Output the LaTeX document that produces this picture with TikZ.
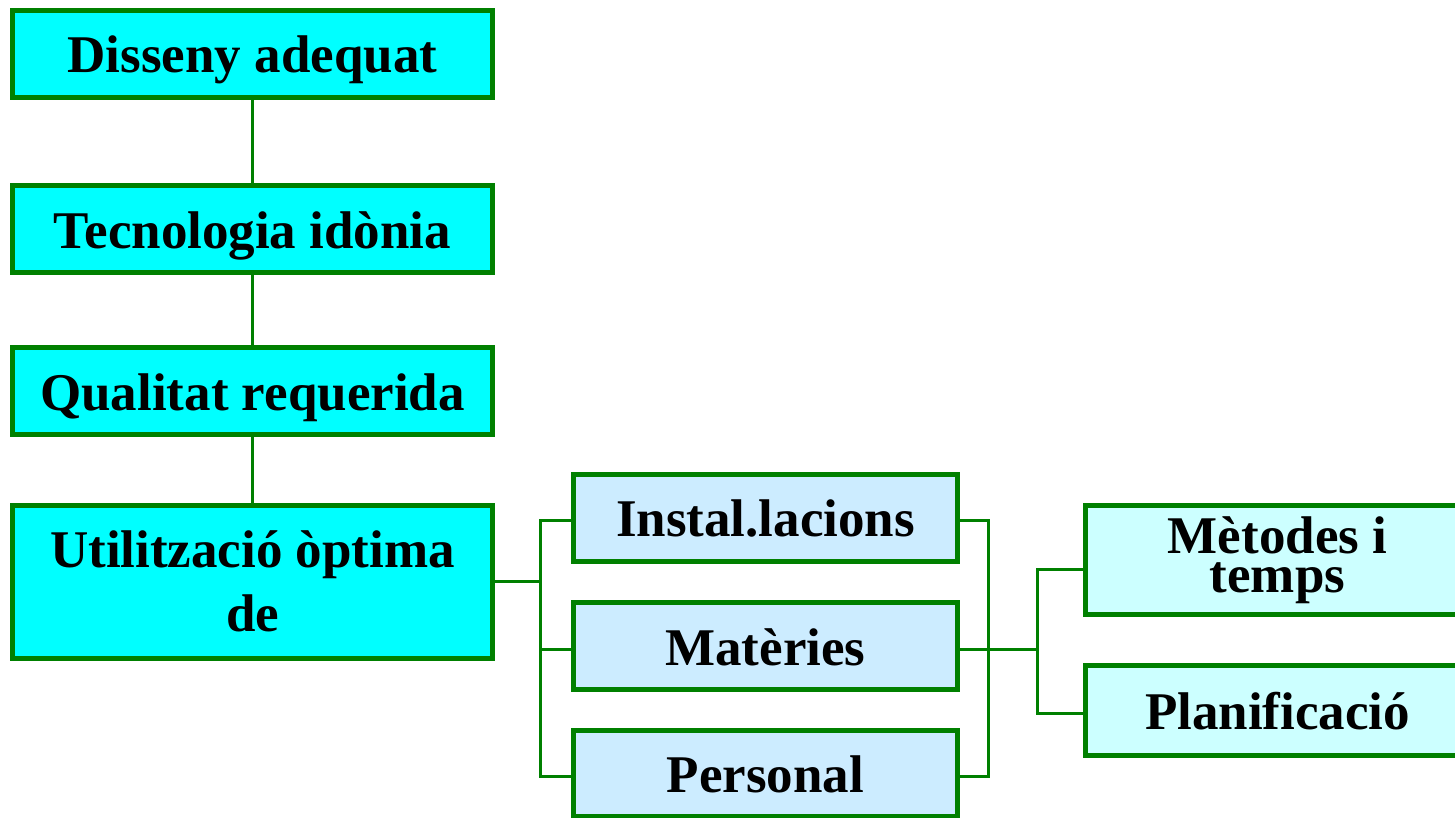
\documentclass[tikz,border=0pt]{standalone}
\usepackage{fontspec}
\setmainfont{Liberation Serif}
\definecolor{boxgreen}{HTML}{008000}
\definecolor{cyanfill}{HTML}{00FFFF}
\definecolor{midfill}{HTML}{CCECFF}
\definecolor{rightfill}{HTML}{CCFFFF}
\begin{document}
\begin{tikzpicture}[x=1pt,y=-1pt,
  box/.style={draw=boxgreen, line width=5pt, inner sep=0pt, align=center,
    font=\fontsize{53}{64}\selectfont\bfseries},
  oneline/.style={text height=38pt, text depth=0pt},
  leftbox/.style={box, fill=cyanfill, minimum width=480pt},
  midbox/.style={box, fill=midfill, minimum width=384pt},
  rightbox/.style={box, fill=rightfill, minimum width=384pt},
  conn/.style={draw=boxgreen, line width=3pt}]
\useasboundingbox (0,0) rectangle (1455,818);
% left column
\node[leftbox, oneline, minimum height=87pt] (dis) at (252.5,54) {Disseny adequat};
\node[leftbox, oneline, minimum height=87pt] (tec) at (252.5,229) {Tecnologia idònia};
\node[leftbox, oneline, minimum height=87pt] (qua) at (252.5,391) {Qualitat requerida};
\node[leftbox, minimum height=152.5pt] (uti) at (252.5,581.75) {Utilització òptima\\de};
% middle column
\node[midbox, oneline, minimum height=86.5pt] (ins) at (765.5,517.75) {Instal.lacions};
\node[midbox, oneline, minimum height=87pt] (mat) at (765.5,646) {Matèries};
\node[midbox, oneline, minimum height=86pt] (per) at (765.5,773.5) {Personal};
% right column (cut by the right edge of the picture)
\node[rightbox, minimum height=109pt, font=\fontsize{53}{38.5}\selectfont\bfseries] (met) at (1277.5,560) {Mètodes i\\temps};
\node[rightbox, oneline, minimum height=90pt] (pla) at (1277.5,710.5) {Planificació};
% connectors
\draw[conn] (dis) -- (tec);
\draw[conn] (tec) -- (qua);
\draw[conn] (qua) -- (uti);
\coordinate (lbus) at (540,0);
\coordinate (rbus) at (988,0);
\coordinate (sbus) at (1037,0);
\draw[conn] (uti.east) -- (uti.east -| lbus);
\draw[conn] ([yshift=-3pt]ins.west) -| ([yshift=-3pt]per.west -| lbus) -- ([yshift=-3pt]per.west);
\draw[conn] ([yshift=-3pt]mat.west) -- ([yshift=-3pt]mat.west -| lbus);
\draw[conn] ([yshift=-3pt]ins.east) -| ([yshift=-3pt]per.east -| rbus) -- ([yshift=-3pt]per.east);
\draw[conn] ([yshift=-3pt]mat.east) -- ([yshift=-3pt]mat.east -| sbus);
\draw[conn] ([yshift=-9pt]met.west) -| ([yshift=-2.5pt]pla.west -| sbus) -- ([yshift=-2.5pt]pla.west);
\end{tikzpicture}
\end{document}
